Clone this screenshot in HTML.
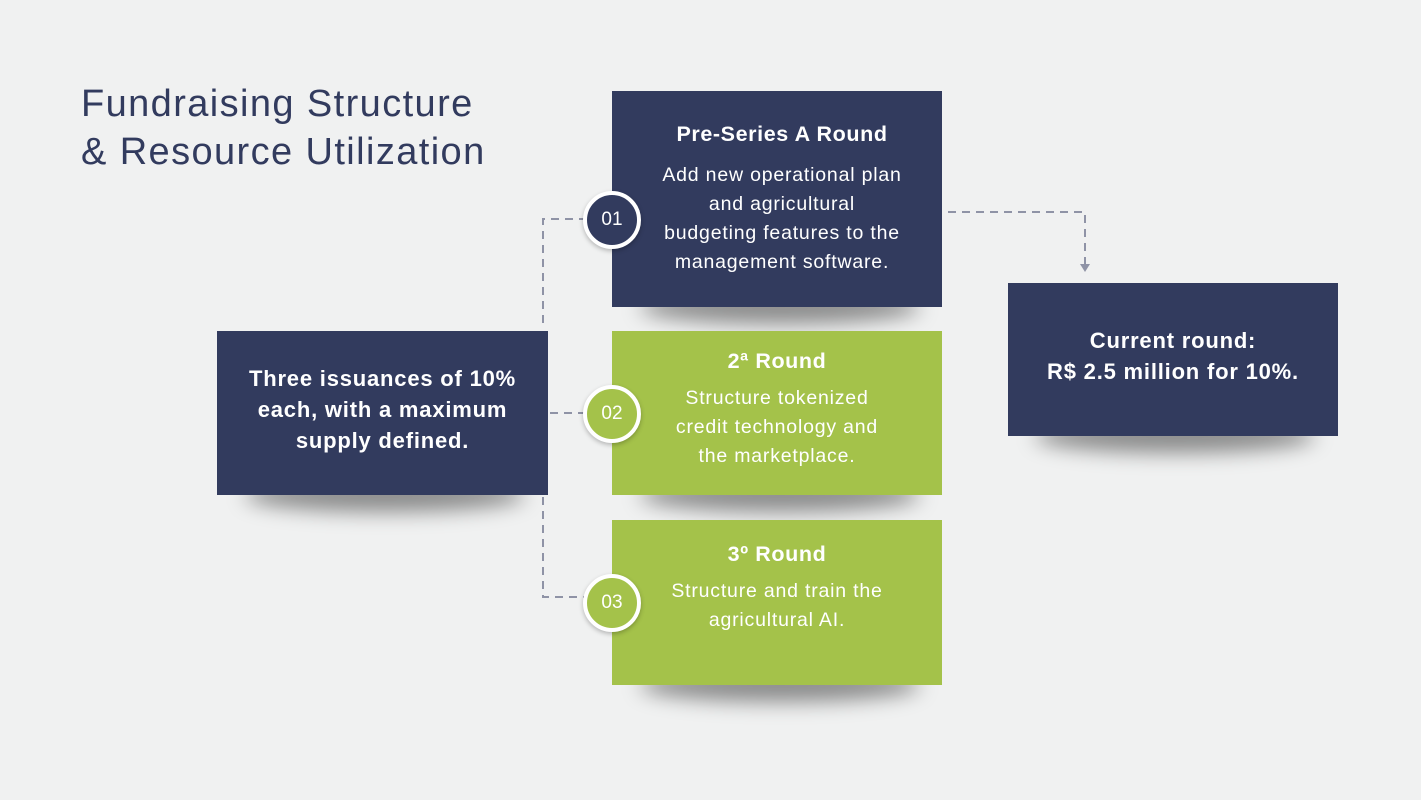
<!DOCTYPE html>
<html><head><style>
body{margin:0;width:1421px;height:800px;background:#f0f1f1;position:relative;overflow:hidden;font-family:"Liberation Sans",sans-serif}
.b{position:absolute;color:#fff;text-align:center;box-sizing:border-box;display:flex;flex-direction:column;justify-content:center;align-items:center}
.n{background:#323b5e}.g{background:#a4c24a}
.sh{position:absolute;height:34px;border-radius:50%;background:rgba(0,0,0,0.42);filter:blur(10px)}
.c{position:absolute;width:50px;height:50px;border-radius:50%;border:4px solid #fff;box-shadow:0 2px 5px rgba(0,0,0,.25);color:#fff;font-size:19px;display:flex;align-items:center;justify-content:center;box-sizing:content-box}
h3{margin:0 0 10px;font-size:21.5px;font-weight:bold;letter-spacing:0.6px}
p{margin:0;font-size:19.5px;line-height:29px;letter-spacing:0.8px}
</style></head><body>
<div style="position:absolute;left:81px;top:80px;font-size:38px;color:#323b5e;line-height:48px;letter-spacing:1.4px">Fundraising Structure<br>&amp; Resource Utilization</div>

<svg width="1421" height="800" style="position:absolute;left:0;top:0">
<g stroke="#8f93a6" stroke-width="2" stroke-dasharray="8,6" fill="none">
<path d="M543 323 V219 H585"/>
<path d="M550 413 H585"/>
<path d="M543 497 V597 H585"/>
<path d="M948 212 H1085 V266"/>
</g>
<path d="M1080 264 L1090 264 L1085 272 Z" fill="#8f93a6"/>
</svg>

<div class="sh" style="left:245px;top:478px;width:280px"></div>
<div class="sh" style="left:640px;top:290px;width:280px"></div>
<div class="sh" style="left:640px;top:478px;width:280px"></div>
<div class="sh" style="left:640px;top:668px;width:280px"></div>
<div class="sh" style="left:1035px;top:419px;width:280px"></div>

<div class="b n" style="left:217px;top:331px;width:331px;height:164px;font-weight:bold;font-size:22px;letter-spacing:0.8px;line-height:31px;padding-bottom:8px">Three issuances of 10%<br>each, with a maximum<br>supply defined.</div>

<div class="b n" style="left:612px;top:91px;width:330px;height:216px;padding-left:10px"><h3 style="margin-bottom:14px">Pre-Series A Round</h3><p>Add new operational plan<br>and agricultural<br>budgeting features to the<br>management software.</p></div>

<div class="b g" style="left:612px;top:331px;width:330px;height:164px;padding-bottom:6px"><h3>2ª Round</h3><p>Structure tokenized<br>credit technology and<br>the marketplace.</p></div>

<div class="b g" style="left:612px;top:520px;width:330px;height:165px;padding-bottom:28px"><h3>3º Round</h3><p>Structure and train the<br>agricultural AI.</p></div>

<div class="b n" style="left:1008px;top:283px;width:330px;height:153px;font-weight:bold;font-size:22px;letter-spacing:0.8px;line-height:31px;padding-bottom:8px">Current round:<br>R$ 2.5 million for 10%.</div>

<div class="c n" style="left:583px;top:191px">01</div>
<div class="c g" style="left:583px;top:385px">02</div>
<div class="c g" style="left:583px;top:574px">03</div>
</body></html>
